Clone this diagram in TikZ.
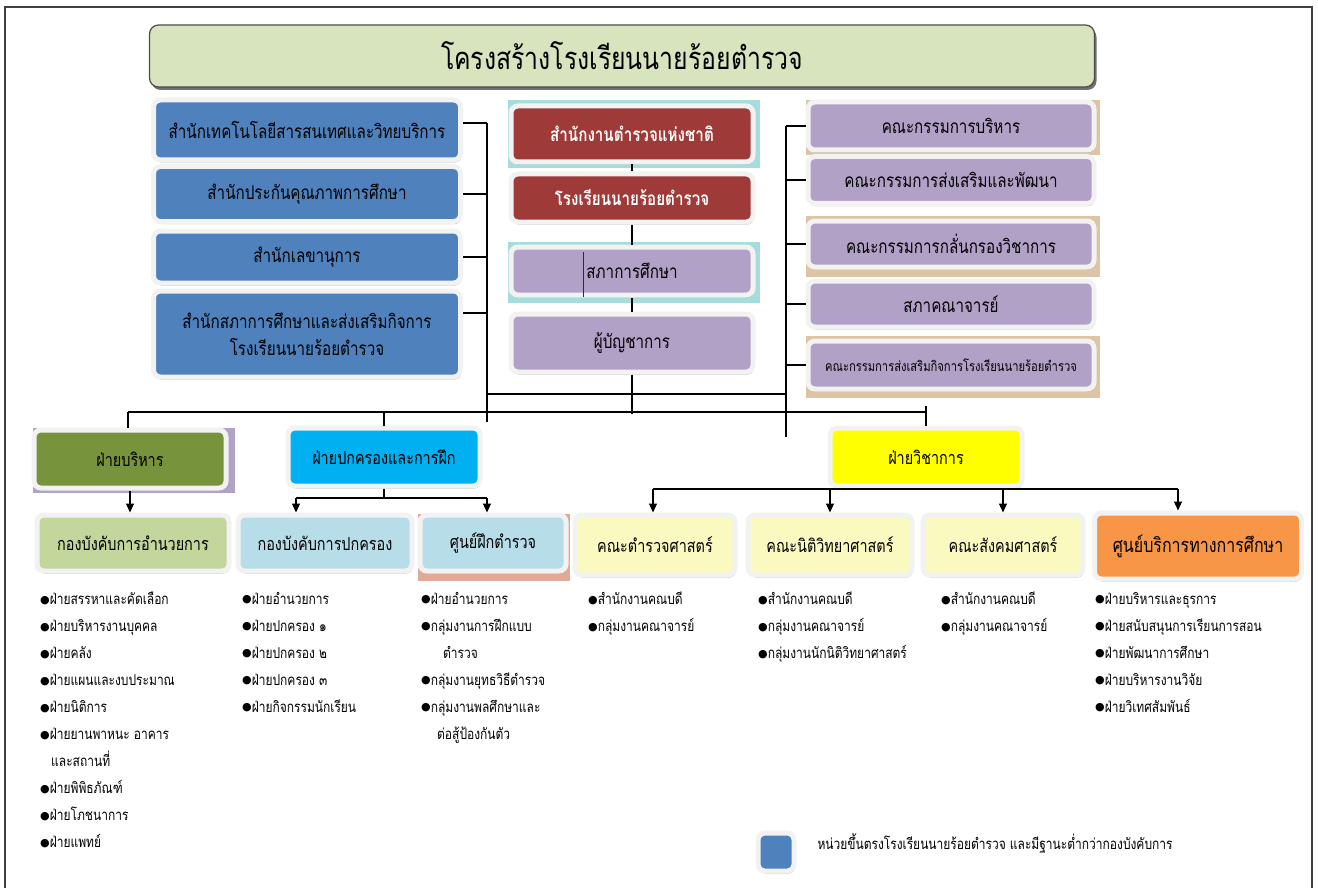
\documentclass[tikz,border=0pt]{standalone}
\usepackage{fontspec}
\setmainfont[Script=Thai, FakeStretch=0.8]{Loma}
\newfontfamily\dotfont{DejaVu Sans}
\usetikzlibrary{arrows.meta,positioning,shadows}

\definecolor{titlegreen}{HTML}{D7E4BD}
\definecolor{unitblue}{HTML}{4F81BD}
\definecolor{policered}{HTML}{9E3A38}
\definecolor{boardpurple}{HTML}{B2A1C7}
\definecolor{admingreen}{HTML}{77933C}
\definecolor{govcyan}{HTML}{00B0F0}
\definecolor{acadyellow}{HTML}{FFFF00}
\definecolor{cmdgreen}{HTML}{C3D69B}
\definecolor{cmdblue}{HTML}{B7DEE8}
\definecolor{facyellow}{HTML}{FAFAC0}
\definecolor{svcorange}{HTML}{F79646}
\definecolor{bgteal}{HTML}{A6DCDC}
\definecolor{bgtan}{HTML}{DCC4A4}
\definecolor{bgsalmon}{HTML}{E3A996}
\definecolor{bgpurple}{HTML}{B3A2C7}
\definecolor{rimgray}{HTML}{F2F2F2}

\newcommand{\dotitem}{\raisebox{1.5pt}{\dotfont\fontsize{11}{11}\selectfont ●}}

\tikzset{
    %Define standard arrow tip
    >={Triangle[width=8pt,length=9pt]},
    %Define style for boxes
    box/.style={
           rectangle,
           rounded corners=7pt,
           draw=rimgray, line width=5pt,
           drop shadow={shadow xshift=1pt, shadow yshift=-2.5pt, fill=black!40, opacity=0.8},
           inner sep=2pt,
           align=center,
           font=\fontsize{19}{27}\selectfont},
    titlebox/.style={
           rectangle,
           rounded corners=9pt,
           draw=black!70, line width=1.2pt,
           fill=titlegreen,
           drop shadow={shadow xshift=2pt, shadow yshift=-3pt, fill=black!70, opacity=0.8},
           font=\fontsize{31}{36}\selectfont},
    unitbox/.style={box, fill=unitblue, minimum width=307, text=black},
    policebox/.style={box, fill=policered, minimum width=242, text=white,
           font=\fontsize{19}{24}\selectfont\bfseries},
    boardbox/.style={box, fill=boardpurple},
    divbox/.style={box, minimum width=192, minimum height=58, font=\fontsize{18}{22}\selectfont},
    cmdbox/.style={box, minimum height=56, font=\fontsize{18}{22}\selectfont},
    listing/.style={anchor=north west, align=left, inner sep=0pt,
           font=\fontsize{15}{27}\selectfont},
    % Define line styles
    link/.style={draw=black, line width=1.1pt},
    pil/.style={link, ->}
}

\begin{document}
\begin{tikzpicture}[x=1pt,y=-1pt]
\useasboundingbox (0,0) rectangle (1318,888);
\draw[black!75, line width=1.5pt] (5,7) rectangle (1312,890);

 %backdrops behind some boxes
\fill[bgteal] (508,100) rectangle (760,168);
\fill[bgteal] (508,242) rectangle (760,303);
\fill[bgtan] (806,100) rectangle (1100,155);
\fill[bgtan] (806,216) rectangle (1100,277);
\fill[bgtan] (806,336) rectangle (1100,398);
\fill[bgpurple] (33,428) rectangle (235,493);
\fill[bgsalmon] (418,514) rectangle (570,581);

 %title
\node[titlebox, minimum width=945, minimum height=62](title) at (622,56){โครงสร้างโรงเรียนนายร้อยตำรวจ};

 %units under the school
\node[unitbox, minimum height=60](u1) at (307,130){สำนักเทคโนโลยีสารสนเทศและวิทยบริการ};
\node[unitbox, minimum height=55](u2) at (307,194){สำนักประกันคุณภาพการศึกษา};
\node[unitbox, minimum height=52](u3) at (307,257){สำนักเลขานุการ};
\node[unitbox, minimum height=86](u4) at (307,334){สำนักสภาการศึกษาและส่งเสริมกิจการ\\โรงเรียนนายร้อยตำรวจ};

 %chain of command
\node[policebox, minimum height=56](nat) at (632,134){สำนักงานตำรวจแห่งชาติ};
\node[policebox, minimum height=48](school) at (632,198){โรงเรียนนายร้อยตำรวจ};
\node[boardbox, minimum width=242, minimum height=48](council) at (632,271){สภาการศึกษา};
\node[boardbox, minimum width=242, minimum height=58](cmdr) at (632,343){ผู้บัญชาการ};

 %boards
\node[boardbox, minimum width=286, minimum height=48](r1) at (951,126){คณะกรรมการบริหาร};
\node[boardbox, minimum width=286, minimum height=47](r2) at (951,180){คณะกรรมการส่งเสริมและพัฒนา};
\node[boardbox, minimum width=286, minimum height=46](r3) at (951,244){คณะกรรมการกลั่นกรองวิชาการ};
\node[boardbox, minimum width=286, minimum height=46](r4) at (951,304){สภาคณาจารย์};
\node[boardbox, minimum width=286, minimum height=48, font=\fontsize{14}{17}\selectfont](r5) at (951,365){คณะกรรมการส่งเสริมกิจการโรงเรียนนายร้อยตำรวจ};

 %divisions
\node[divbox, fill=admingreen](admin) at (130,459){ฝ่ายบริหาร};
\node[divbox, fill=govcyan](gov) at (384,457){ฝ่ายปกครองและการฝึก};
\node[divbox, fill=acadyellow](acad) at (926,457){ฝ่ายวิชาการ};

 %bureaus, centre and faculties
\node[cmdbox, fill=cmdgreen, minimum width=192](k1) at (133,543){กองบังคับการอำนวยการ};
\node[cmdbox, fill=cmdblue, minimum width=174](k2) at (325,543){กองบังคับการปกครอง};
\node[cmdbox, fill=cmdblue, minimum width=146](k3) at (493,543){ศูนย์ฝึกตำรวจ};
\node[cmdbox, fill=facyellow, minimum width=160, minimum height=60](f1) at (655,545){คณะตำรวจศาสตร์};
\node[cmdbox, fill=facyellow, minimum width=164, minimum height=60](f2) at (830,545){คณะนิติวิทยาศาสตร์};
\node[cmdbox, fill=facyellow, minimum width=160, minimum height=60](f3) at (1003,545){คณะสังคมศาสตร์};
\node[cmdbox, fill=svcorange, minimum width=207, minimum height=66, font=\fontsize{20}{24}\selectfont](f4) at (1198,546){ศูนย์บริการทางการศึกษา};

 %sub-units
\node[listing](l1) at (40,592){\dotitem ฝ่ายสรรหาและคัดเลือก\\ \dotitem ฝ่ายบริหารงานบุคคล\\ \dotitem ฝ่ายคลัง\\ \dotitem ฝ่ายแผนและงบประมาณ\\ \dotitem ฝ่ายนิติการ\\ \dotitem ฝ่ายยานพาหนะ อาคาร\\ \hspace*{11pt}และสถานที่\\ \dotitem ฝ่ายพิพิธภัณฑ์\\ \dotitem ฝ่ายโภชนาการ\\ \dotitem ฝ่ายแพทย์};
\node[listing](l2) at (242,592){\dotitem ฝ่ายอำนวยการ\\ \dotitem ฝ่ายปกครอง ๑\\ \dotitem ฝ่ายปกครอง ๒\\ \dotitem ฝ่ายปกครอง ๓\\ \dotitem ฝ่ายกิจกรรมนักเรียน};
\node[listing](l3) at (421,592){\dotitem ฝ่ายอำนวยการ\\ \dotitem กลุ่มงานการฝึกแบบ\\ \hspace*{22pt}ตำรวจ\\ \dotitem กลุ่มงานยุทธวิธีตำรวจ\\ \dotitem กลุ่มงานพลศึกษาและ\\ \hspace*{16pt}ต่อสู้ป้องกันตัว};
\node[listing](l4) at (588,592){\dotitem สำนักงานคณบดี\\ \dotitem กลุ่มงานคณาจารย์};
\node[listing](l5) at (758,592){\dotitem สำนักงานคณบดี\\ \dotitem กลุ่มงานคณาจารย์\\ \dotitem กลุ่มงานนักนิติวิทยาศาสตร์};
\node[listing](l6) at (941,592){\dotitem สำนักงานคณบดี\\ \dotitem กลุ่มงานคณาจารย์};
\node[listing](l7) at (1095,592){\dotitem ฝ่ายบริหารและธุรการ\\ \dotitem ฝ่ายสนับสนุนการเรียนการสอน\\ \dotitem ฝ่ายพัฒนาการศึกษา\\ \dotitem ฝ่ายบริหารงานวิจัย\\ \dotitem ฝ่ายวิเทศสัมพันธ์};

 %legend
\node[box, fill=unitblue, minimum width=36, minimum height=38](key) at (776,852){};
\node[anchor=west, font=\fontsize{15}{18}\selectfont](keytext) at (814,843){หน่วยขึ้นตรงโรงเรียนนายร้อยตำรวจ และมีฐานะต่ำกว่ากองบังคับการ};

 %bracket on the left
\coordinate (ltop) at (487,123);
\coordinate (lfoot) at (487,422);
\draw[link] (ltop) -- (lfoot);
\draw[link] ([yshift=7pt]u1.east) -- (ltop);
\draw[link] (u2.east) -- (u2.east -| ltop);
\draw[link] (u3.east) -- (u3.east -| ltop);
\draw[link] ([yshift=21pt]u4.east) -- ([yshift=21pt]u4.east -| ltop);

 %bracket on the right
\coordinate (rtop) at (786,126);
\coordinate (rfoot) at (786,437);
\draw[link] (rtop) -- (rfoot);
\foreach \n in {r1,r2,r3,r4,r5}
  \draw[link] (\n.west) -- (\n.west -| rtop);

 %chain of command
\draw[link] (nat) -- (school);
\draw[link] (school) -- (council);
\draw[link] (council) -- (cmdr);
\coordinate (cfoot) at (632,414);
\draw[link] (cmdr.south) -- (cfoot);
\draw[green!30!black, line width=0.8pt] (583,252) -- (583,297);

 %buses to the divisions
\coordinate (mbus) at (487,394);
\draw[link] (mbus) -- (mbus -| rtop);
\coordinate (dbus) at (128,412);
\draw[link] (dbus) -- (926,412);
\draw[link] (dbus) -- (dbus |- admin.north);
\draw[link] (gov.north |- dbus) -- (gov.north);
\draw[link] (926,406) -- (acad.north);

 %arrows to the lower level
\draw[pil] (admin.south) -- (admin.south |- k1.north);
\coordinate (gbus) at (296,498);
\draw[link] (gov.south) -- (gov.south |- gbus);
\draw[link] (gbus) -- (487,498);
\draw[pil] (gbus) -- (gbus |- k2.north);
\draw[pil] (487,498) -- (k3.north -| 487,0);
\coordinate (abus) at (653,489);
\draw[link] (abus) -- (1178,489);
\draw[pil] (abus) -- (abus |- f1.north);
\draw[pil] (f2.north |- abus) -- (f2.north);
\draw[pil] (f3.north |- abus) -- (f3.north);
\draw[pil] (1178,489) -- (f4.north -| 1178,0);

\end{tikzpicture}
\end{document}
